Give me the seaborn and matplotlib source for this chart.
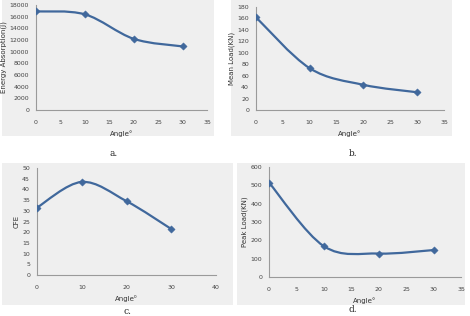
import numpy as np
import matplotlib
matplotlib.use('Agg')
import matplotlib.pyplot as plt
import seaborn as sns
from matplotlib.path import Path
from matplotlib.patches import PathPatch, Rectangle

# data
angle = [0, 10, 20, 30]
energy = [16900, 16400, 12200, 10900]
mean_load = [162, 73, 44, 31]
cfe = [31.5, 43.5, 34.5, 21.5]
peak_load = [515, 168, 128, 147]

sns.set_style('white')
plt.rcParams['font.family'] = ['DejaVu Sans']

W, H = 470, 316
fig = plt.figure(figsize=(W / 100, H / 100), dpi=100)
fig.patch.set_facecolor('white')

BOX = '#efefef'
LINE = '#40689c'
AX = '#9a9a9a'


def smooth_path(xs, ys):
    # excel-style smoothed line, bezier segments through the data points
    xs = np.asarray(xs, float)
    ys = np.asarray(ys, float)
    n = len(xs)
    verts = [(xs[0], ys[0])]
    codes = [Path.MOVETO]
    for i in range(n - 1):
        p0 = (xs[max(i - 1, 0)], ys[max(i - 1, 0)])
        p1 = (xs[i], ys[i])
        p2 = (xs[i + 1], ys[i + 1])
        p3 = (xs[min(i + 2, n - 1)], ys[min(i + 2, n - 1)])
        c1 = (p1[0] + (p2[0] - p0[0]) / 6, p1[1] + (p2[1] - p0[1]) / 6)
        c2 = (p2[0] - (p3[0] - p1[0]) / 6, p2[1] - (p3[1] - p1[1]) / 6)
        verts += [c1, c2, p2]
        codes += [Path.CURVE4] * 3
    return Path(verts, codes)


def panel(box, axpx, x, y, ylabel, xmax, xstep, ymax, ystep, xlabel, cap, cappos):
    bx0, by0, bx1, by1 = box
    fig.patches.append(Rectangle((bx0 / W, 1 - by1 / H), (bx1 - bx0) / W, (by1 - by0) / H,
                                 transform=fig.transFigure, facecolor=BOX,
                                 edgecolor='none', zorder=-10))
    l, t, r, b = axpx
    ax = fig.add_axes([l / W, 1 - b / H, (r - l) / W, (b - t) / H])
    ax.set_zorder(2)
    ax.patch.set_alpha(0)
    ax.add_patch(PathPatch(smooth_path(x, y), facecolor='none', edgecolor=LINE, lw=1.6))
    sns.scatterplot(x=x, y=y, ax=ax, marker='D', s=14, color=LINE, edgecolor=LINE, zorder=3)
    ax.set_xlim(0, xmax)
    ax.set_ylim(0, ymax)
    ax.set_xticks(np.arange(0, xmax + 0.1, xstep))
    ax.set_yticks(np.arange(0, ymax + 0.1, ystep))
    ax.tick_params(labelsize=4.5, length=0, colors='#444444')
    ax.tick_params(axis='x', pad=7)
    ax.tick_params(axis='y', pad=5)
    for s in ['top', 'right']:
        ax.spines[s].set_visible(False)
    for s in ['left', 'bottom']:
        ax.spines[s].set_color(AX)
        ax.spines[s].set_linewidth(0.8)
    ax.set_xlabel(xlabel, fontsize=5, color='#333333', labelpad=4)
    ax.set_ylabel(ylabel, fontsize=5, color='#333333', labelpad=2)
    fig.text(cappos[0] / W, 1 - cappos[1] / H, cap, fontsize=6.5,
             family='DejaVu Serif', ha='center', va='center')
    return ax


panel((2, 0, 214, 136), (36, 5, 207, 110), angle, energy, 'Energy Absorption(J)',
      35, 5, 18000, 2000, 'Angle°', 'a.', (114, 153))
panel((231, 0, 452, 136), (256, 7, 444, 110), angle, mean_load, 'Mean Load(KN)',
      35, 5, 180, 20, 'Angle°', 'b.', (353, 153))
panel((2, 163, 233, 305), (37, 168, 216, 275), angle, cfe, 'CFE',
      40, 10, 50, 5, 'Angle⁰', 'c.', (128, 311))
panel((237, 163, 465, 305), (269, 167, 461, 277), angle, peak_load, 'Peak Load(KN)',
      35, 5, 600, 100, 'Angle°', 'd.', (353, 310))

fig.savefig('out.png', dpi=100)
